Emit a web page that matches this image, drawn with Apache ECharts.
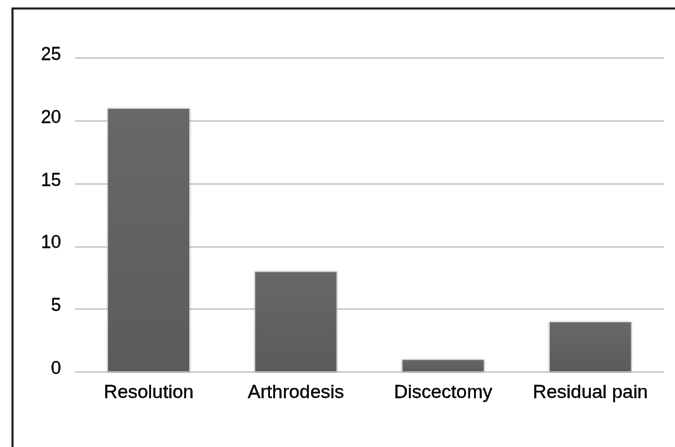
<!DOCTYPE html>
<html style="height: 100%">
<head>
    <meta charset="UTF-8">
    <title>Outcomes</title>
</head>
<body style="height: 100%; margin: 0; background: #fff">
<div id="container" style="width: 675px; height: 447px"></div>
<script src="https://cdn.jsdelivr.net/npm/echarts/dist/echarts.min.js"></script>
<script>
    var categories = ['Resolution', 'Arthrodesis', 'Discectomy', 'Residual pain'];
    var counts = [21, 8, 1, 4];

    var chart = echarts.init(document.getElementById('container'));

    var option = {
        animation: false,
        backgroundColor: '#ffffff',
        grid: {
            left: 75,
            right: 11,
            top: 58,
            bottom: 75
        },
        graphic: [{
            type: 'polyline',
            shape: { points: [[12.5, 447], [12.5, 8.5], [675, 8.5]] },
            style: { stroke: '#111', lineWidth: 2, fill: null }
        }],
        xAxis: {
            type: 'category',
            data: categories,
            axisLine: { show: false },
            axisTick: { show: false },
            axisLabel: {
                interval: 0,
                hideOverlap: false,
                color: '#000',
                fontSize: 19,
                fontFamily: 'Liberation Sans, Arial, sans-serif',
                margin: 11,
                textBorderColor: '#000',
                textBorderWidth: 0.3
            }
        },
        yAxis: {
            type: 'value',
            min: 0,
            max: 25,
            interval: 5,
            axisLine: { show: false },
            axisTick: { show: false },
            axisLabel: {
                color: '#000',
                fontSize: 18,
                fontFamily: 'Liberation Sans, Arial, sans-serif',
                margin: 14,
                verticalAlign: 'bottom',
                padding: [0, 0, -6, 0],
                textBorderColor: '#000',
                textBorderWidth: 0.3
            },
            splitLine: { lineStyle: { color: '#c4c4c4', width: 1.5 } }
        },
        series: [{
            type: 'bar',
            data: counts,
            barWidth: '56%',
            itemStyle: {
                color: new echarts.graphic.LinearGradient(0, 0, 0, 1, [
                    { offset: 0, color: '#68686a' },
                    { offset: 1, color: '#5b5b5d' }
                ]),
                borderColor: '#dadada',
                borderWidth: 0.6,
                shadowColor: 'rgba(0,0,0,0.2)',
                shadowBlur: 2
            }
        }]
    };

    chart.setOption(option);
</script>
</body>
</html>
